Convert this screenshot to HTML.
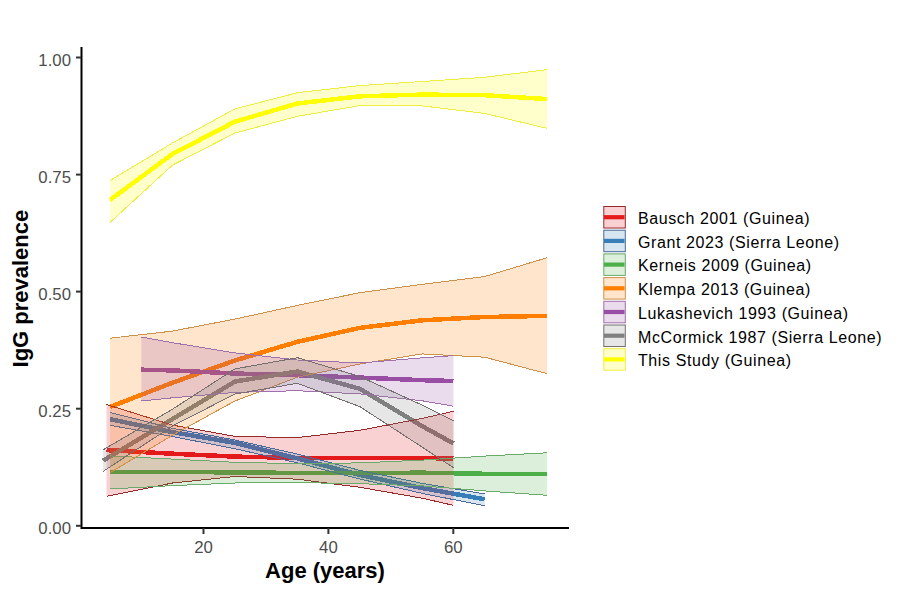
<!DOCTYPE html>
<html><head><meta charset="utf-8"><style>
html,body{margin:0;padding:0;background:#fff;}
svg{display:block;}
.tk{font-family:"Liberation Sans",sans-serif;font-size:16.8px;fill:#4D4D4D;}
.ti{font-family:"Liberation Sans",sans-serif;font-size:22px;font-weight:bold;fill:#000;}
.lg{font-family:"Liberation Sans",sans-serif;font-size:16px;fill:#000;letter-spacing:0.6px;}
</style></head><body>
<svg width="912" height="593" viewBox="0 0 912 593">
<rect width="912" height="593" fill="#fff"/>
<path d="M106.5,450.1 L172.5,453.7 L234.9,456.6 L297.4,457.9 L359.8,458.2 L422.3,458.0 L453.5,458.6" fill="none" stroke="#E41A1C" stroke-width="4.5" stroke-linejoin="round" stroke-linecap="butt" shape-rendering="crispEdges"/>
<path d="M110.0,419.2 L172.5,432.1 L234.9,442.9 L297.4,458.4 L359.8,475.0 L422.3,488.1 L484.7,499.3" fill="none" stroke="#377EB8" stroke-width="4.5" stroke-linejoin="round" stroke-linecap="butt" shape-rendering="crispEdges"/>
<path d="M110.0,472.1 L172.5,471.8 L234.9,472.5 L297.4,472.9 L359.8,473.0 L422.3,472.7 L484.7,473.8 L547.2,473.9" fill="none" stroke="#4DAF4A" stroke-width="4.5" stroke-linejoin="round" stroke-linecap="butt" shape-rendering="crispEdges"/>
<path d="M110.0,407.0 L172.5,382.7 L234.9,360.5 L297.4,341.8 L359.8,327.9 L422.3,320.3 L484.7,317.0 L547.2,315.9" fill="none" stroke="#FF7F00" stroke-width="4.5" stroke-linejoin="round" stroke-linecap="butt" shape-rendering="crispEdges"/>
<path d="M141.4,369.7 L172.5,370.4 L234.9,373.5 L297.4,375.2 L359.8,377.6 L422.3,380.2 L453.5,381.0" fill="none" stroke="#984EA3" stroke-width="4.5" stroke-linejoin="round" stroke-linecap="butt" shape-rendering="crispEdges"/>
<path d="M103.1,460.6 L172.5,419.0 L234.9,381.5 L297.4,371.5 L359.8,388.8 L422.3,426.2 L453.5,443.5" fill="none" stroke="#808080" stroke-width="4.5" stroke-linejoin="round" stroke-linecap="butt" shape-rendering="crispEdges"/>
<path d="M110.0,200.0 L172.5,154.0 L234.9,121.7 L297.4,103.5 L359.8,96.3 L422.3,94.6 L484.7,95.2 L547.2,99.1" fill="none" stroke="#FFFF00" stroke-width="4.5" stroke-linejoin="round" stroke-linecap="butt" shape-rendering="crispEdges"/>
<path d="M106.5,404.5 L172.5,425.1 L234.9,436.4 L297.4,437.6 L359.8,430.3 L422.3,418.4 L453.5,411.3 L453.5,505.4 L422.3,498.2 L359.8,487.3 L297.4,479.2 L234.9,476.5 L172.5,483.0 L106.5,496.4 Z" fill="#E41A1C" fill-opacity="0.2" stroke="none"/>
<path d="M106.5,404.5 L172.5,425.1 L234.9,436.4 L297.4,437.6 L359.8,430.3 L422.3,418.4 L453.5,411.3" fill="none" stroke="#962A2A" stroke-width="1" shape-rendering="crispEdges"/>
<path d="M106.5,496.4 L172.5,483.0 L234.9,476.5 L297.4,479.2 L359.8,487.3 L422.3,498.2 L453.5,505.4" fill="none" stroke="#962A2A" stroke-width="1" shape-rendering="crispEdges"/>
<path d="M110.0,412.5 L172.5,428.3 L234.9,440.0 L297.4,454.1 L359.8,470.4 L422.3,483.4 L484.7,494.0 L484.7,505.8 L422.3,493.4 L359.8,479.0 L297.4,462.8 L234.9,448.7 L172.5,436.5 L110.0,425.3 Z" fill="#377EB8" fill-opacity="0.2" stroke="none"/>
<path d="M110.0,412.5 L172.5,428.3 L234.9,440.0 L297.4,454.1 L359.8,470.4 L422.3,483.4 L484.7,494.0" fill="none" stroke="#4A6A9A" stroke-width="1" shape-rendering="crispEdges"/>
<path d="M110.0,425.3 L172.5,436.5 L234.9,448.7 L297.4,462.8 L359.8,479.0 L422.3,493.4 L484.7,505.8" fill="none" stroke="#4A6A9A" stroke-width="1" shape-rendering="crispEdges"/>
<path d="M110.0,455.9 L172.5,459.1 L234.9,462.3 L297.4,463.7 L359.8,462.9 L422.3,460.1 L484.7,456.1 L547.2,452.8 L547.2,495.3 L484.7,490.9 L422.3,485.9 L359.8,483.7 L297.4,482.6 L234.9,483.0 L172.5,485.6 L110.0,489.0 Z" fill="#4DAF4A" fill-opacity="0.2" stroke="none"/>
<path d="M110.0,455.9 L172.5,459.1 L234.9,462.3 L297.4,463.7 L359.8,462.9 L422.3,460.1 L484.7,456.1 L547.2,452.8" fill="none" stroke="#6AAA6A" stroke-width="1" shape-rendering="crispEdges"/>
<path d="M110.0,489.0 L172.5,485.6 L234.9,483.0 L297.4,482.6 L359.8,483.7 L422.3,485.9 L484.7,490.9 L547.2,495.3" fill="none" stroke="#6AAA6A" stroke-width="1" shape-rendering="crispEdges"/>
<path d="M110.0,338.2 L172.5,331.1 L234.9,319.1 L297.4,305.4 L359.8,292.7 L422.3,284.3 L484.7,276.5 L547.2,257.7 L547.2,373.7 L484.7,357.2 L422.3,353.9 L359.8,364.0 L297.4,377.2 L234.9,401.0 L172.5,435.2 L110.0,472.7 Z" fill="#FF7F00" fill-opacity="0.2" stroke="none"/>
<path d="M110.0,338.2 L172.5,331.1 L234.9,319.1 L297.4,305.4 L359.8,292.7 L422.3,284.3 L484.7,276.5 L547.2,257.7" fill="none" stroke="#D0904A" stroke-width="1" shape-rendering="crispEdges"/>
<path d="M110.0,472.7 L172.5,435.2 L234.9,401.0 L297.4,377.2 L359.8,364.0 L422.3,353.9 L484.7,357.2 L547.2,373.7" fill="none" stroke="#D0904A" stroke-width="1" shape-rendering="crispEdges"/>
<path d="M141.4,337.0 L172.5,342.7 L234.9,352.9 L297.4,360.0 L359.8,363.0 L422.3,357.8 L453.5,355.6 L453.5,406.2 L422.3,400.8 L359.8,393.9 L297.4,390.7 L234.9,392.4 L172.5,397.8 L141.4,401.0 Z" fill="#984EA3" fill-opacity="0.2" stroke="none"/>
<path d="M141.4,337.0 L172.5,342.7 L234.9,352.9 L297.4,360.0 L359.8,363.0 L422.3,357.8 L453.5,355.6" fill="none" stroke="#A070AA" stroke-width="1" shape-rendering="crispEdges"/>
<path d="M141.4,401.0 L172.5,397.8 L234.9,392.4 L297.4,390.7 L359.8,393.9 L422.3,400.8 L453.5,406.2" fill="none" stroke="#A070AA" stroke-width="1" shape-rendering="crispEdges"/>
<path d="M103.1,449.8 L172.5,409.2 L234.9,368.9 L297.4,357.7 L359.8,376.5 L422.3,405.2 L453.5,420.8 L453.5,467.7 L422.3,447.2 L359.8,406.6 L297.4,383.3 L234.9,394.0 L172.5,426.0 L103.1,471.4 Z" fill="#808080" fill-opacity="0.2" stroke="none"/>
<path d="M103.1,449.8 L172.5,409.2 L234.9,368.9 L297.4,357.7 L359.8,376.5 L422.3,405.2 L453.5,420.8" fill="none" stroke="#746E6E" stroke-width="1" shape-rendering="crispEdges"/>
<path d="M103.1,471.4 L172.5,426.0 L234.9,394.0 L297.4,383.3 L359.8,406.6 L422.3,447.2 L453.5,467.7" fill="none" stroke="#746E6E" stroke-width="1" shape-rendering="crispEdges"/>
<path d="M110.0,180.6 L172.5,142.9 L234.9,108.9 L297.4,92.7 L359.8,85.6 L422.3,81.5 L484.7,77.3 L547.2,69.6 L547.2,128.4 L484.7,113.4 L422.3,105.9 L359.8,105.6 L297.4,116.3 L234.9,133.1 L172.5,165.1 L110.0,222.4 Z" fill="#FFFF00" fill-opacity="0.2" stroke="none"/>
<path d="M110.0,180.6 L172.5,142.9 L234.9,108.9 L297.4,92.7 L359.8,85.6 L422.3,81.5 L484.7,77.3 L547.2,69.6" fill="none" stroke="#EEEE40" stroke-width="1" shape-rendering="crispEdges"/>
<path d="M110.0,222.4 L172.5,165.1 L234.9,133.1 L297.4,116.3 L359.8,105.6 L422.3,105.9 L484.7,113.4 L547.2,128.4" fill="none" stroke="#EEEE40" stroke-width="1" shape-rendering="crispEdges"/>
<path d="M81.5,47 V528 H569" fill="none" stroke="#000" stroke-width="2" stroke-linecap="butt"/>
<line x1="76" y1="525.8" x2="81" y2="525.8" stroke="#333" stroke-width="2"/>
<text x="71" y="534.0999999999999" text-anchor="end" class="tk">0.00</text>
<line x1="76" y1="408.7" x2="81" y2="408.7" stroke="#333" stroke-width="2"/>
<text x="71" y="417.0" text-anchor="end" class="tk">0.25</text>
<line x1="76" y1="291.6" x2="81" y2="291.6" stroke="#333" stroke-width="2"/>
<text x="71" y="299.90000000000003" text-anchor="end" class="tk">0.50</text>
<line x1="76" y1="174.6" x2="81" y2="174.6" stroke="#333" stroke-width="2"/>
<text x="71" y="182.9" text-anchor="end" class="tk">0.75</text>
<line x1="76" y1="57.5" x2="81" y2="57.5" stroke="#333" stroke-width="2"/>
<text x="71" y="65.8" text-anchor="end" class="tk">1.00</text>
<line x1="203.5" y1="528" x2="203.5" y2="534" stroke="#333" stroke-width="2"/>
<text x="203.5" y="553" text-anchor="middle" class="tk">20</text>
<line x1="328.4" y1="528" x2="328.4" y2="534" stroke="#333" stroke-width="2"/>
<text x="328.4" y="553" text-anchor="middle" class="tk">40</text>
<line x1="453.3" y1="528" x2="453.3" y2="534" stroke="#333" stroke-width="2"/>
<text x="453.3" y="553" text-anchor="middle" class="tk">60</text>
<text x="325" y="577.5" text-anchor="middle" class="ti">Age (years)</text>
<text transform="translate(27.8,288.6) rotate(-90)" text-anchor="middle" class="ti">IgG prevalence</text>
<rect x="603.8" y="206.5" width="21.5" height="21.5" fill="#E41A1C" fill-opacity="0.2" stroke="#962A2A" stroke-width="1"/>
<line x1="604" y1="217.2" x2="624.5" y2="217.2" stroke="#E41A1C" stroke-width="4.2"/>
<text x="638" y="224.0" class="lg">Bausch 2001 (Guinea)</text>
<rect x="603.8" y="230.2" width="21.5" height="21.5" fill="#377EB8" fill-opacity="0.2" stroke="#4A6A9A" stroke-width="1"/>
<line x1="604" y1="240.9" x2="624.5" y2="240.9" stroke="#377EB8" stroke-width="4.2"/>
<text x="638" y="247.7" class="lg">Grant 2023 (Sierra Leone)</text>
<rect x="603.8" y="253.9" width="21.5" height="21.5" fill="#4DAF4A" fill-opacity="0.2" stroke="#6AAA6A" stroke-width="1"/>
<line x1="604" y1="264.6" x2="624.5" y2="264.6" stroke="#4DAF4A" stroke-width="4.2"/>
<text x="638" y="271.4" class="lg">Kerneis 2009 (Guinea)</text>
<rect x="603.8" y="277.6" width="21.5" height="21.5" fill="#FF7F00" fill-opacity="0.2" stroke="#D0904A" stroke-width="1"/>
<line x1="604" y1="288.3" x2="624.5" y2="288.3" stroke="#FF7F00" stroke-width="4.2"/>
<text x="638" y="295.1" class="lg">Klempa 2013 (Guinea)</text>
<rect x="603.8" y="301.3" width="21.5" height="21.5" fill="#984EA3" fill-opacity="0.2" stroke="#A070AA" stroke-width="1"/>
<line x1="604" y1="312.0" x2="624.5" y2="312.0" stroke="#984EA3" stroke-width="4.2"/>
<text x="638" y="318.8" class="lg">Lukashevich 1993 (Guinea)</text>
<rect x="603.8" y="325.0" width="21.5" height="21.5" fill="#808080" fill-opacity="0.2" stroke="#746E6E" stroke-width="1"/>
<line x1="604" y1="335.7" x2="624.5" y2="335.7" stroke="#808080" stroke-width="4.2"/>
<text x="638" y="342.5" class="lg">McCormick 1987 (Sierra Leone)</text>
<rect x="603.8" y="348.7" width="21.5" height="21.5" fill="#FFFF00" fill-opacity="0.2" stroke="#EEEE40" stroke-width="1"/>
<line x1="604" y1="359.4" x2="624.5" y2="359.4" stroke="#FFFF00" stroke-width="4.2"/>
<text x="638" y="366.2" class="lg">This Study (Guinea)</text>
</svg></body></html>
